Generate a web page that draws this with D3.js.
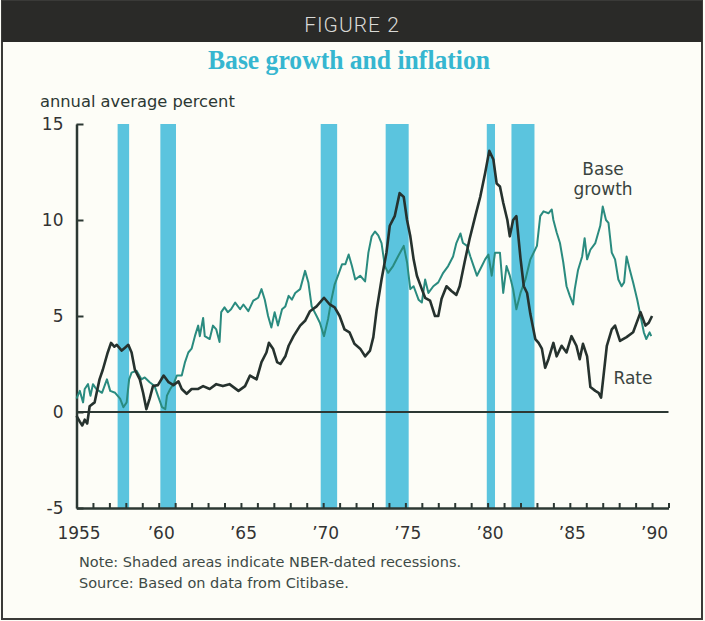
<!DOCTYPE html>
<html>
<head>
<meta charset="utf-8">
<script src="https://cdn.jsdelivr.net/npm/d3@7"></script>
<style>
  html, body { margin: 0; padding: 0; background: #fdfdf7; }
  svg { display: block; }
</style>
</head>
<body>
<svg id="chart" width="705" height="621"></svg>
<script>
// datos
const yTicks = [-5, 0, 5, 10, 15];
const xLabelYears = [1955, 1960, 1965, 1970, 1975, 1980, 1985, 1990];
const xLabels = ["1955", "\u201960", "\u201965", "\u201970", "\u201975", "\u201980", "\u201985", "\u201990"];

// recesiones NBER (inicio, fin)
const recessionStart = [1957.5, 1960.1, 1969.85, 1973.8, 1979.95, 1981.45];
const recessionEnd = [1958.2, 1961.05, 1970.85, 1975.2, 1980.45, 1982.85];

const rateYears = [1955.0, 1955.2, 1955.35, 1955.5, 1955.65, 1955.8, 1956.1, 1956.4, 1956.6, 1956.9,
  1957.1, 1957.3, 1957.45, 1957.75, 1957.95, 1958.15, 1958.35, 1958.55, 1958.85, 1959.05,
  1959.25, 1959.45, 1959.65, 1959.95, 1960.3, 1960.6, 1960.9, 1961.2, 1961.4, 1961.7,
  1962.0, 1962.4, 1962.7, 1963.1, 1963.5, 1963.9, 1964.3, 1964.85, 1965.25, 1965.55,
  1965.95, 1966.25, 1966.55, 1966.7, 1966.95, 1967.2, 1967.4, 1967.7, 1967.9, 1968.2,
  1968.6, 1968.9, 1969.2, 1969.6, 1970.05, 1970.4, 1970.7, 1971.0, 1971.3, 1971.6,
  1971.9, 1972.25, 1972.55, 1972.85, 1973.05, 1973.25, 1973.55, 1973.85, 1974.05, 1974.35,
  1974.65, 1974.9, 1975.1, 1975.3, 1975.5, 1975.7, 1976.0, 1976.2, 1976.5, 1976.8,
  1977.0, 1977.2, 1977.5, 1977.8, 1978.1, 1978.3, 1978.6, 1978.9, 1979.25, 1979.55,
  1979.85, 1980.1, 1980.35, 1980.55, 1980.75, 1980.95, 1981.2, 1981.35, 1981.55, 1981.75,
  1982.0, 1982.2, 1982.4, 1982.6, 1982.9, 1983.1, 1983.3, 1983.5, 1983.7, 1984.0,
  1984.2, 1984.5, 1984.8, 1985.1, 1985.4, 1985.6, 1985.8, 1986.05, 1986.25, 1986.55,
  1986.75, 1986.9, 1987.05, 1987.25, 1987.55, 1987.75, 1988.05, 1988.45, 1988.85, 1989.15,
  1989.3, 1989.6, 1989.8, 1990.0];
const rateValues = [-0.2, -0.5, -0.7, -0.4, -0.6, 0.3, 0.5, 1.7, 2.2, 3.1,
  3.6, 3.4, 3.5, 3.2, 3.35, 3.5, 3.1, 2.2, 1.7, 1.0,
  0.15, 0.7, 1.35, 1.4, 1.9, 1.55, 1.4, 1.6, 1.2, 0.95,
  1.2, 1.2, 1.35, 1.2, 1.45, 1.35, 1.45, 1.1, 1.35, 1.9,
  1.7, 2.6, 3.1, 3.6, 3.3, 2.6, 2.5, 2.9, 3.45, 3.95,
  4.5, 4.75, 5.25, 5.5, 5.95, 5.6, 5.45, 5.0, 4.3, 4.15,
  3.55, 3.3, 2.9, 3.2, 3.9, 5.3, 6.9, 8.3, 9.7, 10.2,
  11.4, 11.2, 10.0, 9.15, 7.95, 7.1, 6.4, 5.95, 5.8, 5.0,
  5.0, 5.9, 6.55, 6.3, 6.1, 6.55, 7.8, 9.0, 10.2, 11.2,
  12.45, 13.6, 13.15, 11.9, 11.75, 10.9, 10.0, 9.15, 10.0, 10.2,
  8.0, 6.55, 6.2, 5.1, 3.8, 3.6, 3.3, 2.3, 2.75, 3.6,
  2.9, 3.45, 3.1, 3.95, 3.45, 2.75, 3.55, 2.9, 1.3, 1.1,
  1.0, 0.75, 1.9, 3.45, 4.3, 4.5, 3.7, 3.9, 4.15, 4.85,
  5.2, 4.5, 4.65, 5.0];

const baseYears = [1955.0, 1955.2, 1955.4, 1955.5, 1955.7, 1955.85, 1956.0, 1956.2, 1956.55, 1956.85,
  1957.05, 1957.35, 1957.65, 1957.85, 1958.05, 1958.2, 1958.35, 1958.65, 1958.95, 1959.15,
  1959.45, 1959.75, 1959.95, 1960.2, 1960.4, 1960.5, 1960.7, 1960.9, 1961.1, 1961.4,
  1961.6, 1961.8, 1962.0, 1962.2, 1962.4, 1962.5, 1962.7, 1962.8, 1963.1, 1963.3,
  1963.5, 1963.7, 1963.8, 1964.0, 1964.2, 1964.4, 1964.65, 1964.95, 1965.15, 1965.45,
  1965.75, 1966.05, 1966.25, 1966.45, 1966.65, 1966.85, 1967.05, 1967.25, 1967.5, 1967.7,
  1967.9, 1968.1, 1968.3, 1968.6, 1968.9, 1969.1, 1969.3, 1969.6, 1969.8, 1970.05,
  1970.3, 1970.5, 1970.7, 1970.9, 1971.15, 1971.35, 1971.55, 1971.75, 1971.95, 1972.25,
  1972.55, 1972.75, 1972.95, 1973.15, 1973.35, 1973.55, 1973.75, 1973.95, 1974.25, 1974.55,
  1974.9, 1975.1, 1975.3, 1975.5, 1975.8, 1976.0, 1976.2, 1976.4, 1976.7, 1977.0,
  1977.3, 1977.6, 1977.9, 1978.1, 1978.35, 1978.5, 1978.75, 1978.95, 1979.15, 1979.35,
  1979.65, 1979.85, 1980.05, 1980.25, 1980.45, 1980.75, 1980.95, 1981.15, 1981.35, 1981.55,
  1981.75, 1982.0, 1982.3, 1982.6, 1982.8, 1983.0, 1983.2, 1983.4, 1983.7, 1983.9,
  1984.0, 1984.2, 1984.4, 1984.6, 1984.8, 1985.0, 1985.2, 1985.3, 1985.5, 1985.75,
  1985.9, 1986.05, 1986.25, 1986.55, 1986.85, 1987.0, 1987.2, 1987.35, 1987.55, 1987.75,
  1987.95, 1988.15, 1988.3, 1988.45, 1988.65, 1988.85, 1989.1, 1989.3, 1989.5, 1989.65,
  1989.85, 1989.95];
const baseValues = [0.7, 1.1, 0.5, 1.2, 1.45, 0.85, 1.45, 1.2, 1.0, 1.7,
  1.1, 1.0, 0.7, 0.25, 0.5, 1.7, 2.05, 2.15, 1.7, 1.8,
  1.55, 1.35, 0.85, 0.25, 0.15, 0.85, 1.2, 1.45, 1.9, 1.9,
  2.6, 3.1, 3.3, 3.95, 4.5, 3.95, 4.9, 3.95, 3.8, 4.5,
  4.3, 3.65, 5.2, 5.45, 5.2, 5.35, 5.7, 5.35, 5.6, 5.25,
  5.8, 5.95, 6.4, 5.85, 5.0, 4.4, 5.2, 4.5, 5.35, 5.5,
  6.05, 5.85, 6.2, 6.4, 7.35, 6.75, 5.5, 5.0, 4.65, 3.95,
  4.85, 5.85, 6.65, 7.1, 7.7, 7.7, 8.2, 7.6, 6.9, 7.1,
  6.8, 8.3, 9.15, 9.4, 9.2, 8.8, 7.6, 7.25, 7.6, 8.1,
  8.65, 7.8, 6.4, 6.55, 5.85, 5.7, 6.9, 6.2, 6.55, 6.75,
  7.25, 7.6, 8.1, 8.8, 9.3, 8.8, 8.65, 8.1, 7.6, 7.1,
  7.6, 7.95, 8.2, 7.1, 8.3, 8.3, 6.2, 7.6, 7.1, 6.4,
  5.35, 6.2, 6.9, 7.95, 8.3, 8.65, 10.2, 10.45, 10.35, 10.55,
  10.0, 9.35, 8.8, 7.8, 6.55, 6.05, 5.6, 6.4, 7.4, 8.1,
  9.05, 7.95, 8.45, 8.8, 9.7, 10.7, 10.0, 9.85, 8.3, 7.95,
  6.9, 6.55, 6.75, 8.1, 7.4, 6.75, 5.85, 5.0, 4.15, 3.8,
  4.15, 3.95];

const svg = d3.select("#chart");

// colores
const ink = "#2c3833";
const teal = "#2a8b7f";
const cyan = "#5bc4de";

// marco y cabecera
svg.append("rect")
    .attr("x", 2).attr("y", 1)
    .attr("width", 700).attr("height", 618)
    .attr("fill", "#fdfdf7")
    .attr("stroke", "#3a3a38")
    .attr("stroke-width", 2);

svg.append("rect")
    .attr("x", 2).attr("y", 1)
    .attr("width", 700).attr("height", 41)
    .attr("fill", "#2a2a28");

svg.append("text")
    .attr("x", 352).attr("y", 32)
    .attr("text-anchor", "middle")
    .style("font-family", "Roboto, 'Liberation Sans', sans-serif")
    .style("font-weight", 300)
    .style("font-size", "21px")
    .style("letter-spacing", "1px")
    .attr("fill", "#d9d9d6")
    .text("FIGURE 2");

svg.append("text")
    .attr("x", 349).attr("y", 69)
    .attr("text-anchor", "middle")
    .attr("textLength", 282)
    .attr("lengthAdjust", "spacingAndGlyphs")
    .style("font-family", "'Liberation Serif', serif")
    .style("font-weight", "bold")
    .style("font-size", "27px")
    .attr("fill", "#36b6d0")
    .text("Base growth and inflation");

svg.append("text")
    .attr("x", 40).attr("y", 107)
    .style("font-family", "'DejaVu Sans', sans-serif")
    .style("font-size", "16.3px")
    .attr("fill", ink)
    .text("annual average percent");

// escalas
const x = d3.scaleLinear().domain([1955, 1991]).range([76.5, 668.5]);
const y = d3.scaleLinear().domain([-5, 15]).range([508, 124]);

// areas sombreadas
svg.append("g")
    .selectAll("rect")
    .data(recessionStart)
    .enter()
    .append("rect")
    .attr("x", (d, i) => x(d))
    .attr("width", (d, i) => x(recessionEnd[i]) - x(d))
    .attr("y", y(15))
    .attr("height", y(-5) - y(15))
    .attr("fill", cyan);

// linea de cero
svg.append("line")
    .attr("x1", x(1955)).attr("x2", x(1991))
    .attr("y1", y(0)).attr("y2", y(0))
    .attr("stroke", ink)
    .attr("stroke-width", 2);

// eje y
const yAxis = svg.append("g")
    .attr("transform", `translate(${x(1955)},0)`)
    .call(d3.axisLeft(y).tickValues(yTicks).tickSizeInner(-7).tickSizeOuter(0).tickPadding(13)
        .tickFormat(d => String(d)));

// eje x: marcas por año y etiquetas cada 5 años
const xAxis = svg.append("g")
    .attr("transform", `translate(0,${y(-5)})`)
    .call(d3.axisBottom(x).tickValues(d3.range(1956, 1992)).tickSizeInner(-5).tickSizeOuter(0).tickFormat(""));

const xLab = svg.append("g")
    .attr("transform", `translate(2,${y(-5)})`)
    .call(d3.axisBottom(x).tickValues(xLabelYears).tickSize(0).tickPadding(19)
        .tickFormat((d, i) => xLabels[i]));
xLab.select(".domain").remove();

[yAxis, xAxis, xLab].forEach(g => {
    g.selectAll(".domain").attr("stroke", ink).attr("stroke-width", 2.5);
    g.selectAll(".tick line").attr("stroke", ink).attr("stroke-width", 2);
    g.selectAll(".tick text")
        .attr("fill", "#333")
        .style("font-family", "'DejaVu Sans', sans-serif")
        .style("font-size", "17px");
});

// series
const line = d3.line()
    .x(d => x(d[0]))
    .y(d => y(d[1]));

svg.append("path")
    .datum(baseYears.map((d, i) => [d, baseValues[i]]))
    .attr("d", line)
    .attr("fill", "none")
    .attr("stroke", teal)
    .attr("stroke-width", 2)
    .attr("stroke-linejoin", "round");

svg.append("path")
    .datum(rateYears.map((d, i) => [d, rateValues[i]]))
    .attr("d", line)
    .attr("fill", "none")
    .attr("stroke", "#26322e")
    .attr("stroke-width", 2.6)
    .attr("stroke-linejoin", "round");

// etiquetas de series
const labelStyle = sel => sel
    .attr("text-anchor", "middle")
    .style("font-family", "'DejaVu Sans', sans-serif")
    .style("font-size", "17px")
    .attr("fill", "#3a4440");

svg.append("text").attr("x", 603).attr("y", 175).call(labelStyle).text("Base");
svg.append("text").attr("x", 603).attr("y", 195).call(labelStyle).text("growth");
svg.append("text").attr("x", 633).attr("y", 384).call(labelStyle).text("Rate");

// notas
const notes = ["Note: Shaded areas indicate NBER-dated recessions.", "Source: Based on data from Citibase."];
svg.append("g")
    .selectAll("text")
    .data(notes)
    .enter()
    .append("text")
    .attr("x", 79)
    .attr("y", (d, i) => 567 + i * 21)
    .style("font-family", "'DejaVu Sans', sans-serif")
    .style("font-size", "14.5px")
    .attr("fill", "#3d4a46")
    .text(d => d);
</script>
</body>
</html>
